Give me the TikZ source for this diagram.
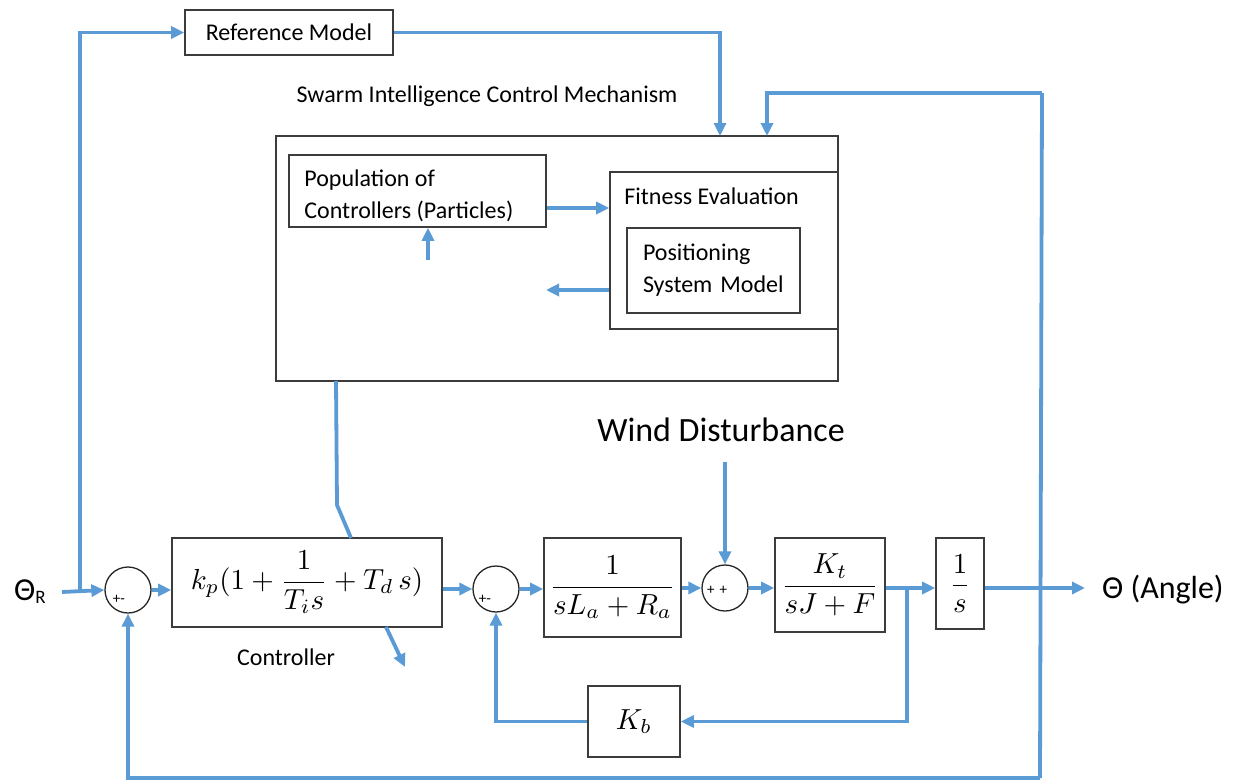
\documentclass[tikz,border=0pt]{standalone}
\usepackage{graphicx}
\usepackage{fontspec}
\setmainfont{Carlito}
\usetikzlibrary{arrows.meta}
\definecolor{wire}{RGB}{91,155,213}
\definecolor{edge}{RGB}{60,60,60}
\newcommand{\mymath}[1]{\scalebox{2.9}{$\displaystyle #1$}}
\tikzset{
  blk/.style={draw=edge, line width=1.6pt, fill=white, rectangle, inner sep=0pt},
  sumc/.style={draw=black!85, line width=1.3pt, circle, minimum size=46pt, inner sep=0pt},
  wire/.style={draw=wire, line width=3.8pt},
  arr/.style={wire, -{Triangle[length=13pt,width=12pt]}},
  lbl/.style={font=\fontsize{24}{32}\selectfont},
  big/.style={font=\fontsize{34}{38}\selectfont},
  pm/.style={font=\fontsize{15}{15}\selectfont, inner sep=0pt},
}
\begin{document}
\begin{tikzpicture}[x=1pt,y=-1pt]
\fill[white] (0,0) rectangle (1234,782);
\useasboundingbox (0,0) rectangle (1234,782);

% upper part
\node[blk, minimum width=208pt, minimum height=45pt, lbl] (refm) at (289,32.5) {Reference Model};
\node[lbl, inner sep=0pt] (title) at (487,96) {Swarm Intelligence Control Mechanism};
\node[blk, minimum width=562pt, minimum height=245pt] (swarm) at (557,258.5) {};
\node[blk, minimum width=257pt, minimum height=72pt,
      label={[lbl, align=left, inner sep=0pt, anchor=west, xshift=16pt, yshift=-5pt]west:Population of\\Controllers (Particles)}] (pop) at (417.5,191) {};
\node[blk, minimum width=228pt, minimum height=157pt,
      label={[lbl, inner sep=0pt, anchor=north west, xshift=15pt, yshift=-16pt]north west:Fitness Evaluation}] (fit) at (724,250.5) {};
\node[blk, lbl, minimum width=173pt, minimum height=85pt, text width=141pt, align=left, inner xsep=16pt] (pos) at (713.5,270.5) {Positioning\\System Model};

% lower part
\node[inner sep=0pt] (thr) at (30,592) {\fontsize{32}{36}\selectfont Θ{\fontsize{19}{20}\selectfont\raisebox{-3pt}{R}}};
\node[sumc, label={[pm,xshift=-9pt,yshift=-9pt]center:+-}] (c1) at (128,590) {};
\node[blk, minimum width=270pt, minimum height=89pt] (ctrl) at (307,582.5) {\mymath{k_p(1+\frac{1}{T_i s}+T_d\, s)}};
\node[lbl, inner sep=0pt] (ctrllbl) at (286,657) {Controller};
\node[sumc, label={[pm,xshift=-11pt,yshift=-10pt]center:+-}] (c2) at (496,589) {};
\node[blk, minimum width=137pt, minimum height=99pt] (la) at (612.5,587.5) {\mymath{\frac{1}{sL_a+R_a}}};
\node[big, inner sep=0pt] (wind) at (721,430) {Wind Disturbance};
\node[sumc, label={[pm,xshift=-8pt,yshift=-2pt]center:+\,\,+}] (c3) at (725,588) {};
\node[blk, minimum width=110pt, minimum height=94pt] (kt) at (830,585) {\mymath{\frac{K_t}{sJ+F}}};
\node[blk, minimum width=48pt, minimum height=91pt] (inv) at (960,583.5) {\mymath{\frac{1}{s}}};
\node[blk, minimum width=92pt, minimum height=71pt] (kb) at (634,721.5) {\mymath{K_b}};
\node[font=\fontsize{32}{36}\selectfont, inner sep=0pt, anchor=west] (outl) at (1102,590) {Θ (Angle)};

% coordinates
\coordinate (tr) at (62,592);
\coordinate (j1) at (80,592);
\coordinate (sa) at (720,136);
\coordinate (sb) at (767,136);
\coordinate (fbtop) at (1042,93);
\coordinate (fbbot) at (1040,778);
\coordinate (s1) at (336,381);
\coordinate (s2) at (337,505);
\coordinate (s3) at (351,538);
\coordinate (d1) at (386,627);
\coordinate (d2) at (405,667);
\coordinate (u1) at (428,260);
\coordinate (b1) at (546,290);
\coordinate (w1) at (725,462);
\coordinate (br) at (907,588);
\coordinate (out) at (1085,588);

% connectors
\draw[arr] (tr) -- (c1.west);
\draw[arr] (j1) |- (refm.west);
\draw[arr] (refm.east) -| (sa);
\draw[arr] (fbtop) -| (sb);
\draw[wire] (fbtop) -- (fbbot);
\draw[arr] (fbbot) -| (c1.south);
\draw[wire] (s1) -- (s2) -- (s3);
\draw[arr] (d1) -- (d2);
\draw[arr] (pop.east |- 0,208) -- (fit.west |- 0,208);
\draw[arr] (u1) -- (u1 |- pop.south);
\draw[arr] (fit.west |- b1) -- (b1);
\draw[arr] (c1.east) -- (ctrl.west |- c1.east);
\draw[arr] (ctrl.east |- c2.west) -- (c2.west);
\draw[arr] (c2.east) -- (la.west |- c2.east);
\draw[arr] (la.east |- c3.west) -- (c3.west);
\draw[arr] (w1) -- (c3.north);
\draw[arr] (c3.east) -- (kt.west |- c3.east);
\draw[arr] (kt.east |- c3.east) -- (inv.west |- c3.east);
\draw[arr] (br) |- (kb.east);
\draw[arr] (kb.west) -| (c2.south);
\draw[arr] (inv.east |- c3.east) -- (out);
\end{tikzpicture}
\end{document}
